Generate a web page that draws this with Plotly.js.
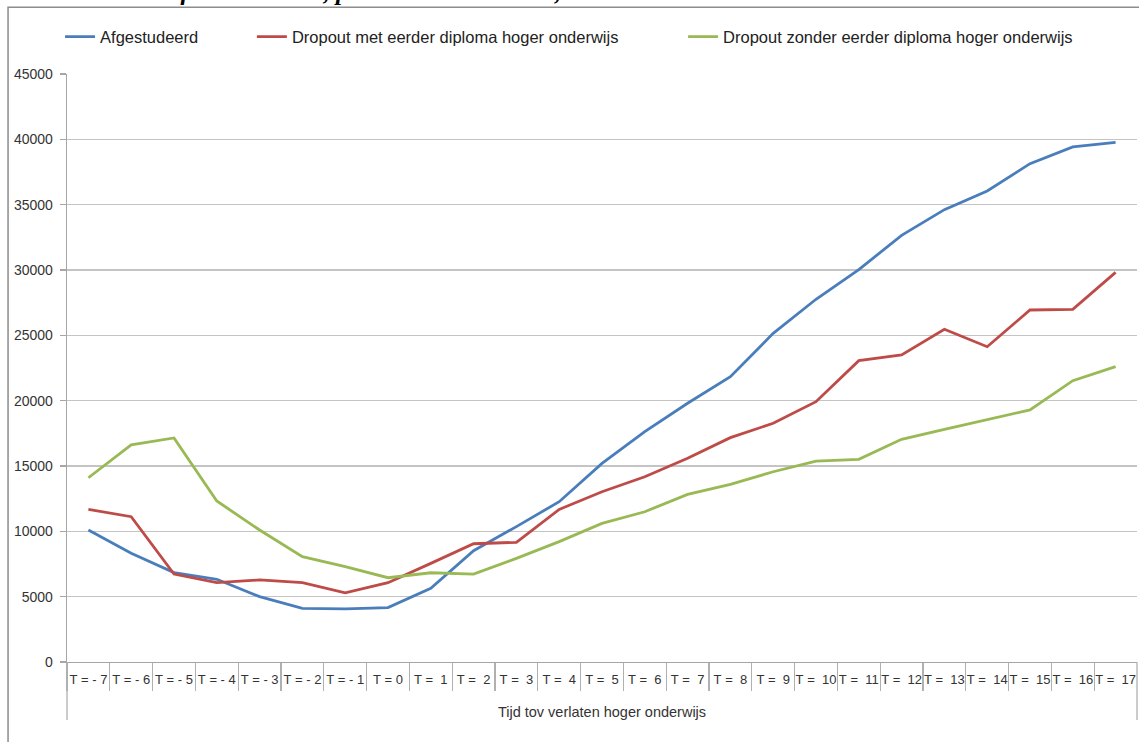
<!DOCTYPE html>
<html>
<head>
<meta charset="utf-8">
<script src="https://cdn.plot.ly/plotly-3.0.1.min.js"></script>
<style>
  html, body { margin: 0; padding: 0; background: #fff; }
  #chart { width: 1139px; height: 742px; }
</style>
</head>
<body>
<div id="chart"></div>
<script>
// ---- data ----
const tLabels = ["T = - 7", "T = - 6", "T = - 5", "T = - 4", "T = - 3", "T = - 2", "T = - 1",
  "T = 0", "T =  1", "T =  2", "T =  3", "T =  4", "T =  5", "T =  6", "T =  7", "T =  8",
  "T =  9", "T =  10", "T =  11", "T =  12", "T =  13", "T =  14", "T =  15", "T =  16", "T =  17"];

const afgestudeerd = [10100, 8320, 6840, 6330, 5000, 4110, 4060, 4160, 5640, 8520,
  10360, 12270, 15200, 17630, 19800, 21840, 25150, 27760, 30030, 32650, 34620, 36050, 38140, 39420, 39760];

const dropoutMet = [11680, 11120, 6730, 6070, 6280, 6070, 5300, 6070, 7550, 9050,
  9160, 11680, 13030, 14180, 15590, 17170, 18270, 19920, 23060, 23500, 25460, 24130, 26940, 26990, 29820];

const dropoutZonder = [14100, 16620, 17150, 12320, 10100, 8060, 7300, 6450, 6830, 6730,
  7930, 9210, 10610, 11500, 12830, 13600, 14560, 15380, 15510, 17040, 17810, 18570, 19290, 21530, 22600];

const seriesNames = ["Afgestudeerd", "Dropout met eerder diploma hoger onderwijs", "Dropout zonder eerder diploma hoger onderwijs"];
const titleFragment = "afstudeerstatus, per mediaaninkomen, alle contracten";
const xTitle = "Tijd tov verlaten hoger onderwijs";

// ---- chart ----
const nbsp = s => s.replace(/ /g, "\u00a0");
const cats = tLabels.map((_, i) => i);
const font = "Liberation Sans, Arial, sans-serif";

function mk(y, name, color, legend, xaxis) {
  return {
    x: cats, y: y, name: name, type: "scatter", mode: "lines", xaxis: xaxis,
    line: { color: color, width: 2.8 }, legend: legend, hoverinfo: "x+y"
  };
}

const traces = [
  mk(afgestudeerd, seriesNames[0], "#4A7EBB", "legend", "x"),
  mk(dropoutMet, seriesNames[1], "#BE4B48", "legend2", "x"),
  mk(dropoutZonder, seriesNames[2], "#98B954", "legend3", "x2")
];

const legendBase = {
  orientation: "h", yanchor: "middle", y: 1.063, xanchor: "left",
  bgcolor: "rgba(0,0,0,0)", font: { family: font, size: 16.5, color: "#222" },
  itemwidth: 30, tracegroupgap: 0
};

const layout = {
  width: 1139, height: 742,
  margin: { l: 67, r: 2, t: 74, b: 80, pad: 0 },
  paper_bgcolor: "#ffffff", plot_bgcolor: "#ffffff",
  font: { family: font, color: "#333" },
  showlegend: true,
  legend: Object.assign({}, legendBase, { x: -0.0065 }),
  legend2: Object.assign({}, legendBase, { x: 0.1728 }),
  legend3: Object.assign({}, legendBase, { x: 0.5758 }),
  xaxis: {
    type: "linear", range: [-0.5, 24.5], showgrid: false, zeroline: false,
    showline: true, linecolor: "#a6a6a6", linewidth: 1.3,
    tickvals: cats.slice(0, -1).map(v => v + 0.5).concat([-0.5]),
    ticks: "outside", ticklen: 28, tickcolor: "#b0b0b0", tickwidth: 1.3,
    showticklabels: false, fixedrange: true
  },
  xaxis2: {
    type: "linear", overlaying: "x", anchor: "y", side: "bottom",
    range: [-0.5, 24.5], showgrid: false, zeroline: false, showline: false,
    tickvals: cats, ticktext: tLabels.map(nbsp), ticks: "", tickangle: 0,
    ticklabelstandoff: 8,
    tickfont: { family: font, size: 13, color: "#333" },
    title: { text: xTitle, font: { family: font, size: 14.5, color: "#333" }, standoff: 20 },
    fixedrange: true
  },
  yaxis: {
    range: [0, 45000], dtick: 5000, tick0: 0, tickformat: "d",
    showgrid: true, gridcolor: "#c4c4c4", gridwidth: 1.3,
    zeroline: false, showline: true, linecolor: "#a6a6a6", linewidth: 1.3,
    ticks: "outside", ticklen: 6, tickcolor: "#a6a6a6", tickwidth: 1.3,
    ticklabelstandoff: 4,
    tickfont: { family: font, size: 14, color: "#333" }, fixedrange: true
  },
  shapes: [
    { type: "line", xref: "paper", yref: "paper", x0: 0, x1: 0, y0: 0, y1: -0.0986,
      line: { color: "#b0b0b0", width: 1.3 } },
    { type: "line", xref: "paper", yref: "paper", x0: 1, x1: 1, y0: 0, y1: -0.0986,
      line: { color: "#b0b0b0", width: 1.3 } },
    { type: "rect", xref: "paper", yref: "paper", x0: -0.0551, x1: 1.02, y0: -0.16, y1: 1.1135,
      line: { color: "#8c8c8c", width: 1.5 }, fillcolor: "rgba(0,0,0,0)" }
  ],
  annotations: [
    { text: "<b><i>" + titleFragment + "</i></b>", xref: "paper", yref: "paper",
      x: 0.3525, y: 1.1135, xanchor: "center", yanchor: "bottom", showarrow: false,
      font: { family: "Liberation Serif, serif", size: 25, color: "#000" } }
  ]
};

Plotly.newPlot("chart", traces, layout, { staticPlot: true, displayModeBar: false });
</script>
</body>
</html>
